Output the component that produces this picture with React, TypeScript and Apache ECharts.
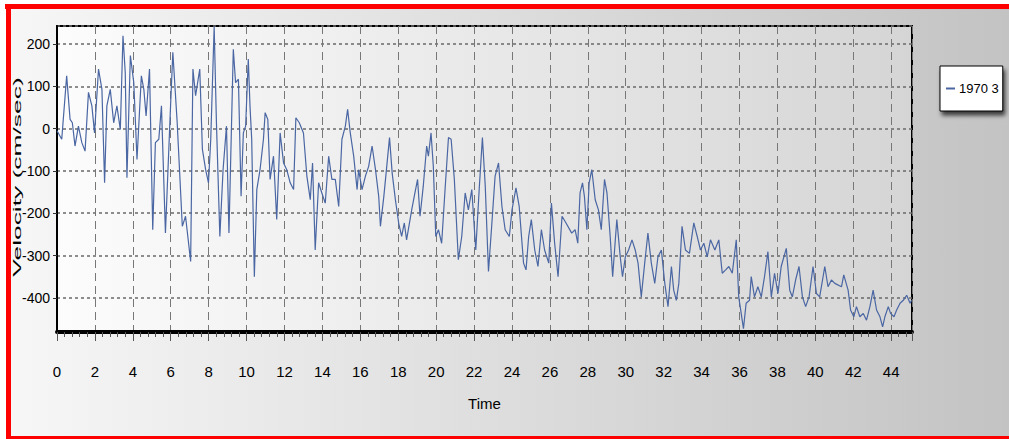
import React, { useEffect, useRef } from "react";
import * as echarts from "echarts";

const seriesName = "1970 3";
const xAxisTitle = "Time";
const yAxisTitle = "Velocity (cm/sec)";

const timeSec = [
  0, 0.25, 0.51, 0.69, 0.81, 0.95, 1.13, 1.31, 1.48, 1.66, 1.84, 1.98, 2.19, 2.37, 2.51, 2.63, 2.81, 2.99, 3.16, 3.34,
  3.48, 3.6, 3.69, 3.87, 4.05, 4.22, 4.45, 4.58, 4.7, 4.88, 5.05, 5.19, 5.37, 5.51, 5.72, 5.99, 6.11, 6.34, 6.61, 6.78,
  7.05, 7.17, 7.31, 7.53, 7.67, 7.84, 7.99, 8.11, 8.29, 8.41, 8.59, 8.76, 8.94,
  9.07, 9.3, 9.42, 9.57, 9.71, 9.83, 9.95, 10.09, 10.18, 10.27, 10.41, 10.54, 10.71, 10.89, 10.98, 11.12, 11.24, 11.42,
  11.59, 11.77, 11.95, 12.12, 12.3, 12.48, 12.6, 12.78, 13.0, 13.18, 13.36, 13.48, 13.62, 13.8, 13.97, 14.15, 14.33,
  14.5, 14.68, 14.86, 15.03, 15.21, 15.33, 15.47, 15.65, 15.83, 15.91, 16.09, 16.27, 16.44, 16.62, 16.8, 16.97, 17.06,
  17.24, 17.36, 17.54, 17.68, 17.85,
  18.03, 18.18, 18.32, 18.44, 18.71, 18.88, 19.02, 19.15, 19.32, 19.5, 19.59, 19.73, 19.85, 19.98, 20.12, 20.29, 20.47,
  20.65, 20.79, 20.96, 21.17, 21.35, 21.53, 21.7, 21.88, 22.09, 22.27, 22.44, 22.59, 22.76, 22.94, 23.11, 23.29, 23.47,
  23.64, 23.86, 24.0, 24.21, 24.38, 24.61, 24.74, 24.88, 25.02, 25.2, 25.37, 25.55, 25.72, 25.94, 26.08, 26.25, 26.43,
  26.64, 26.85,
  27.15, 27.33, 27.47, 27.59, 27.72, 27.82, 27.95, 28.07, 28.21, 28.39, 28.56, 28.71, 28.88, 29.01, 29.18, 29.31, 29.45,
  29.53, 29.71, 29.83, 29.98, 30.15, 30.33, 30.5, 30.65, 30.82, 31.0, 31.17, 31.35, 31.53, 31.7, 31.88, 32.06, 32.23,
  32.41, 32.53, 32.67, 32.8, 32.97, 33.15, 33.36, 33.59, 33.77, 33.94, 34.12, 34.3, 34.47, 34.7, 34.91, 35.09, 35.27,
  35.44, 35.62, 35.83,
  35.96, 36.21, 36.35, 36.53, 36.62, 36.79, 36.97, 37.15, 37.32, 37.5, 37.68, 37.85, 38.03, 38.2, 38.47, 38.65, 38.79,
  38.96, 39.14, 39.32, 39.49, 39.67, 39.88, 40.06, 40.23, 40.5, 40.67, 40.85, 41.03, 41.38, 41.5, 41.73, 41.86, 42.03,
  42.17, 42.35, 42.53, 42.7, 42.88, 43.05, 43.23, 43.41, 43.55, 43.67, 43.85, 43.97, 44.15, 44.29, 44.47, 44.64, 44.82,
  45.0, 45.08,
];

const velocity = [
  -5, -25, 125, 22, 14, -41, 6, -33, -53, 86, 54, -10, 141, 93, -128, 54, 93, 14, 54, -2,
  220, 133, -116, 173, 109, -73, 125, 93, 30, 141, -239, -33, -25, 54, -247, 54, 181, 14, -231, -207,
  -314, 141, 78, 141, -49, -97, -128, -25, 242, 14, -255, -97, 6,
  -247, 188, 109, 117, -160, -10, 6, 165, 54, -25, -350, -144, -97, -25, 38, 22, -120, -65,
  -215, -10, -81, -97, -128, -144, 26, 14, -10, -112, -168, -81, -287, -128, -152, -176, -65,
  -120, -120, -184, -25, 6, 46, -10, -65, -144, -97, -144, -112, -89, -41, -97, -160, -231,
  -160, -105, -21, -105, -168,
  -225, -255, -223, -263, -192, -152, -120, -207, -136, -41, -65, -10, -89, -255, -239, -271, -144,
  -21, -25, -120, -310, -255, -152, -192, -144, -287, -144, -21, -136, -338, -223, -112, -81, -184,
  -239, -255, -192, -140, -184, -318, -334, -255, -215, -287, -326, -239, -287, -318, -176, -271, -350,
  -207, -223,
  -247, -239, -271, -152, -128, -160, -239, -128, -97, -168, -192, -239, -120, -152, -255, -350, -263,
  -215, -303, -350, -303, -287, -263, -287, -318, -398, -318, -247, -318, -366, -303, -287, -366, -421,
  -326, -382, -406, -366, -231, -287, -295, -223, -255, -287, -271, -303, -263, -287, -263, -342, -334,
  -326, -342, -263,
  -398, -473, -413, -406, -350, -398, -374, -398, -350, -291, -398, -342, -390, -326, -283, -382, -398,
  -358, -326, -398, -421, -398, -326, -390, -398, -326, -374, -358, -366, -374, -346, -382, -429, -445,
  -421, -445, -437, -453, -421, -382, -429, -445, -469, -445, -421, -437, -445, -429, -413, -406, -394,
  -413, -406,
];

const FONT = '"Liberation Sans", Arial, sans-serif';

export default function App() {
  const ref = useRef<HTMLDivElement>(null);

  useEffect(() => {
    if (!ref.current) return;
    const chart = echarts.init(ref.current, null, { renderer: "svg" });
    const data = timeSec.map((t, i) => [t, velocity[i]]);

    chart.setOption({
      animation: false,
      backgroundColor: new echarts.graphic.LinearGradient(0, 0, 1, 0, [
        { offset: 0, color: "#f7f7f7" },
        { offset: 1, color: "#c3c3c3" },
      ]),
      grid: {
        left: 57,
        right: 97,
        top: 26,
        bottom: 107,
        show: true,
        borderColor: "#000",
        borderWidth: 2,
        backgroundColor: new echarts.graphic.LinearGradient(0, 0, 1, 0, [
          { offset: 0, color: "#fcfcfc" },
          { offset: 1, color: "#d5d5d5" },
        ]),
      },
      legend: {
        show: true,
        left: 940,
        top: 66,
        padding: [16, 4, 16, 6],
        backgroundColor: "#fff",
        borderColor: "#000",
        borderWidth: 1,
        shadowColor: "rgba(0,0,0,0.7)",
        shadowBlur: 4,
        shadowOffsetX: 2,
        shadowOffsetY: 4,
        icon: "rect",
        itemWidth: 9,
        itemHeight: 2,
        itemGap: 4,
        textStyle: { fontFamily: FONT, fontSize: 13, color: "#000", padding: [0, 0, 0, -1] },
        data: [seriesName],
      },
      xAxis: {
        type: "value",
        min: 0,
        max: 45.1,
        interval: 2,
        name: xAxisTitle,
        nameLocation: "middle",
        nameGap: 64,
        nameTextStyle: { fontFamily: FONT, fontSize: 15, color: "#000" },
        axisLine: { show: true, onZero: false, lineStyle: { color: "#000", width: 4 } },
        axisTick: { show: true, length: 9, lineStyle: { color: "#555", width: 1 } },
        minorTick: { show: true, splitNumber: 5, length: 5, lineStyle: { color: "#555", width: 1 } },
        axisLabel: {
          margin: 32,
          fontFamily: FONT,
          fontSize: 15,
          color: "#000",
          showMaxLabel: false,
          formatter: (v: number) => String(Math.round(v)),
        },
        splitLine: { show: true, lineStyle: { color: "#777", width: 1, type: [8, 5] } },
      },
      yAxis: {
        type: "value",
        min: -481,
        max: 243,
        splitNumber: 7,
        axisLine: { show: true, onZero: false, lineStyle: { color: "#000", width: 2 } },
        axisTick: { show: true, length: 4, lineStyle: { color: "#333", width: 1 } },
        axisLabel: {
          margin: 7,
          fontFamily: FONT,
          fontSize: 14,
          color: "#000",
          showMinLabel: false,
          showMaxLabel: false,
        },
        splitLine: { show: true, lineStyle: { color: "#6a6a6a", width: 1.5, type: [3, 3] } },
      },
      series: [
        {
          name: seriesName,
          type: "line",
          data,
          showSymbol: false,
          symbol: "none",
          lineStyle: { color: "#4a66a3", width: 1.2 },
          itemStyle: { color: "#4a66a3" },
          z: 3,
        },
      ],
      graphic: [
        { type: "rect", left: 0, top: 0, shape: { width: 1009, height: 4 }, style: { fill: "#fff" }, z: 100 },
        { type: "rect", left: 0, top: 0, shape: { width: 6, height: 439 }, style: { fill: "#fff" }, z: 100 },
        { type: "rect", left: 5, top: 4, shape: { width: 1004, height: 5 }, style: { fill: "#ff0000" }, z: 101 },
        { type: "rect", left: 6, top: 4, shape: { width: 5, height: 435 }, style: { fill: "#ff0000" }, z: 101 },
        { type: "rect", left: 6, top: 436, shape: { width: 1003, height: 3 }, style: { fill: "#ff0000" }, z: 101 },
        {
          type: "text",
          x: 17,
          y: 177,
          rotation: Math.PI / 2,
          scaleX: 2.4,
          scaleY: 1.05,
          style: {
            text: yAxisTitle,
            font: '11px "Liberation Sans", Arial, sans-serif',
            fill: "#000",
            align: "center",
            verticalAlign: "middle",
          },
          z: 102,
        },
      ],
    });

    return () => chart.dispose();
  }, []);

  return (
    <div
      ref={ref}
      style={{ position: "absolute", left: 0, top: 0, width: 1009, height: 439 }}
    />
  );
}
